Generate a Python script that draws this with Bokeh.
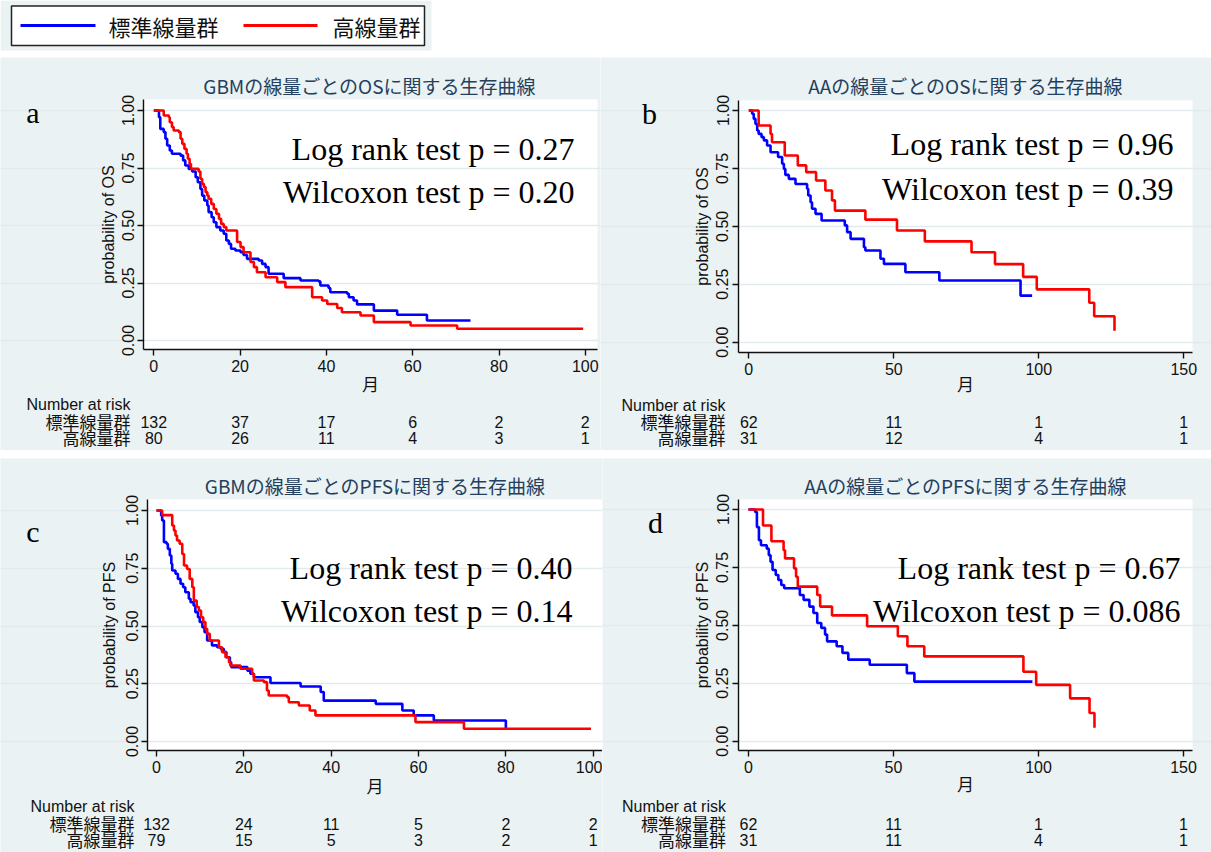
import math
from bokeh.plotting import figure
from bokeh.layouts import column, row
from bokeh.models import (Range1d, FixedTicker, PrintfTickFormatter, Label, Spacer, LinearAxis, Grid)
from bokeh.embed import file_html
from bokeh.resources import INLINE

# ---------------- data ----------------
group_names = ["標準線量群", "高線量群"]
series_colors = ["#0000ff", "#ff0000"]
x_label = "月"
risk_title = "Number at risk"
y_ticks = [0.0, 0.25, 0.5, 0.75, 1.0]

# Panel a : GBM OS
a_title = "GBMの線量ごとのOSに関する生存曲線"
a_ylabel = "probability of OS"
a_ticks = [0, 20, 40, 60, 80, 100]
a_std_t = [0, 1.2, 1.5, 2.3, 2.7, 3.1, 3.7, 4.2, 6.2, 6.8, 7.3, 8.1, 8.9, 9.7, 10.2, 10.8, 11.2, 11.7, 12.4,
           12.7, 13.4, 13.9, 14.5, 15.4, 16.2, 16.8, 17.4, 17.9, 18.9, 20.1, 20.8, 21.6, 24.3, 25.1, 25.9,
           26.6, 30.1, 34.0, 38.2, 38.6, 40.5, 40.9, 44.8, 45.2, 46.3, 47.1, 51.0, 56.4, 63.3, 73.4]
a_std_s = [1.0, 0.971, 0.920, 0.906, 0.877, 0.848, 0.826, 0.812, 0.804, 0.783, 0.761, 0.746, 0.735, 0.710,
           0.688, 0.659, 0.630, 0.609, 0.587, 0.558, 0.536, 0.514, 0.493, 0.478, 0.464, 0.435, 0.420, 0.399,
           0.391, 0.384, 0.372, 0.355, 0.348, 0.333, 0.319, 0.290, 0.271, 0.261, 0.257, 0.239, 0.228, 0.210,
           0.203, 0.188, 0.174, 0.157, 0.130, 0.112, 0.087, 0.087]
a_high_t = [0, 2.3, 3.5, 3.7, 4.2, 4.6, 5.8, 6.2, 6.6, 7.1, 7.6, 7.9, 8.3, 8.6, 10.4, 10.8, 11.2, 11.6, 12.0,
            12.4, 12.7, 13.3, 13.9, 14.5, 15.1, 15.6, 16.2, 16.8, 19.3, 20.1, 20.8, 22.4, 23.2, 23.9, 25.9,
            28.6, 30.5, 36.7, 39.0, 40.2, 42.5, 43.6, 47.9, 51.0, 59.5, 70.3, 99.5]
a_high_s = [1.0, 0.978, 0.971, 0.949, 0.928, 0.913, 0.906, 0.877, 0.855, 0.833, 0.812, 0.790, 0.768, 0.746,
            0.735, 0.703, 0.681, 0.667, 0.645, 0.630, 0.616, 0.594, 0.572, 0.551, 0.529, 0.507, 0.493, 0.478,
            0.428, 0.406, 0.384, 0.341, 0.319, 0.297, 0.275, 0.254, 0.232, 0.188, 0.174, 0.159, 0.141, 0.123,
            0.109, 0.080, 0.065, 0.051, 0.051]
a_risk_std = [132, 37, 17, 6, 2, 2]
a_risk_high = [80, 26, 11, 4, 3, 1]
a_logrank = "Log rank test p = 0.27"
a_wilcoxon = "Wilcoxon test p = 0.20"

# Panel b : AA OS
b_title = "AAの線量ごとのOSに関する生存曲線"
b_ylabel = "probability of OS"
b_ticks = [0, 50, 100, 150]
b_std_t = [0, 1.15, 1.7, 2.3, 2.9, 3.4, 4.4, 5.2, 6.3, 7.5, 10.1, 11.5, 12.1, 12.6, 13.8, 16.1, 20.1, 20.5,
           21.3, 21.8, 23.0, 25.1, 33.1, 33.9, 35.1, 39.7, 40.2, 45.4, 46.6, 54.0, 65.7, 93.7, 97.7]
b_std_s = [1.0, 0.986, 0.964, 0.942, 0.914, 0.899, 0.885, 0.871, 0.849, 0.820, 0.799, 0.770, 0.748, 0.722,
           0.705, 0.683, 0.662, 0.633, 0.604, 0.576, 0.554, 0.525, 0.504, 0.475, 0.446, 0.410, 0.396, 0.360,
           0.338, 0.302, 0.266, 0.201, 0.201]
b_high_t = [0, 3.4, 7.5, 8.0, 12.4, 16.9, 19.8, 23.2, 26.4, 28.7, 29.7, 40.2, 51.1, 60.7, 76.8, 84.9, 94.6,
            99.3, 117.4, 119.1, 126.1]
b_high_s = [1.0, 0.935, 0.899, 0.863, 0.806, 0.763, 0.734, 0.698, 0.655, 0.612, 0.568, 0.529, 0.482, 0.435,
            0.388, 0.337, 0.282, 0.228, 0.170, 0.112, 0.049]
b_risk_std = [62, 11, 1, 1]
b_risk_high = [31, 12, 4, 1]
b_logrank = "Log rank test p = 0.96"
b_wilcoxon = "Wilcoxon test p = 0.39"

# Panel c : GBM PFS
c_title = "GBMの線量ごとのPFSに関する生存曲線"
c_ylabel = "probability of PFS"
c_ticks = [0, 20, 40, 60, 80, 100]
c_std_t = [0, 1.07, 1.3, 1.7, 2.3, 2.6, 3.05, 3.4, 3.6, 4.35, 4.9, 5.5, 6.1, 6.6, 7.4, 7.8, 8.5, 8.9, 9.5,
           9.9, 10.5, 11.0, 11.6, 12.7, 13.9, 14.7, 15.4, 16.0, 16.8, 17.1, 20.8, 21.5, 22.3, 26.1, 33.0,
           37.6, 38.3, 50.2, 56.3, 58.9, 63.5, 80.0]
c_std_s = [1.0, 0.978, 0.957, 0.863, 0.856, 0.834, 0.805, 0.769, 0.740, 0.726, 0.704, 0.683, 0.668, 0.646,
           0.618, 0.603, 0.589, 0.560, 0.538, 0.517, 0.495, 0.473, 0.437, 0.416, 0.408, 0.401, 0.387, 0.365,
           0.343, 0.322, 0.307, 0.293, 0.278, 0.253, 0.238, 0.214, 0.177, 0.163, 0.134, 0.113, 0.091, 0.055]
c_high_t = [0, 1.3, 3.6, 4.0, 4.35, 4.7, 5.3, 5.9, 6.3, 7.0, 7.6, 8.2, 8.55, 9.2, 9.7, 10.2, 10.7, 11.2,
            11.6, 12.2, 14.3, 15.0, 15.8, 16.6, 16.9, 19.2, 21.9, 22.3, 24.6, 25.3, 25.7, 29.9, 30.3, 32.6,
            35.1, 36.4, 59.3, 70.4, 99.5]
c_high_s = [1.0, 0.980, 0.935, 0.913, 0.892, 0.870, 0.856, 0.812, 0.762, 0.747, 0.704, 0.668, 0.610, 0.582,
            0.567, 0.538, 0.517, 0.488, 0.466, 0.437, 0.408, 0.387, 0.365, 0.343, 0.329, 0.315, 0.293, 0.264,
            0.257, 0.221, 0.199, 0.192, 0.170, 0.156, 0.134, 0.113, 0.084, 0.055, 0.055]
c_risk_std = [132, 24, 11, 5, 2, 2]
c_risk_high = [79, 15, 5, 3, 2, 1]
c_logrank = "Log rank test p = 0.40"
c_wilcoxon = "Wilcoxon test p = 0.14"

# Panel d : AA PFS
d_title = "AAの線量ごとのPFSに関する生存曲線"
d_ylabel = "probability of PFS"
d_ticks = [0, 50, 100, 150]
d_std_t = [0, 2.3, 2.9, 3.6, 4.3, 6.3, 7.0, 7.6, 8.3, 9.4, 10.3, 11.3, 12.3, 17.7, 19.0, 21.0, 22.4, 23.7,
           25.1, 26.4, 27.1, 30.4, 32.4, 34.4, 41.8, 54.6, 57.2, 97.9]
d_std_s = [1.0, 0.989, 0.924, 0.867, 0.846, 0.831, 0.803, 0.774, 0.739, 0.717, 0.696, 0.674, 0.660, 0.631,
           0.610, 0.581, 0.553, 0.510, 0.489, 0.460, 0.431, 0.410, 0.381, 0.352, 0.330, 0.294, 0.257, 0.257]
d_high_t = [0, 5.0, 7.9, 12.1, 12.6, 15.7, 16.4, 17.0, 23.7, 24.7, 28.8, 40.9, 51.5, 54.8, 60.6, 94.8, 99.2,
            110.9, 117.6, 119.3]
d_high_s = [1.0, 0.931, 0.863, 0.824, 0.789, 0.746, 0.710, 0.667, 0.631, 0.581, 0.543, 0.496, 0.453, 0.410,
            0.366, 0.300, 0.243, 0.185, 0.122, 0.058]
d_risk_std = [62, 11, 1, 1]
d_risk_high = [31, 11, 4, 1]
d_logrank = "Log rank test p = 0.67"
d_wilcoxon = "Wilcoxon test p = 0.086"

# ---------------- styling / layout ----------------
SANS = "Liberation Sans"
CJK = "Noto Sans CJK JP"
SERIF = "Liberation Serif"
BG = "#eaf2f3"
GRID = "#e1eaed"
INK = "#111111"
TITLE_COLOR = "#24405e"

# box: figure placement on page; plot: plot-region edges (L, T, R, B);
# x0px/xppu, y0px/yppu: pixel of value 0 and pixels per unit on each scale
panels = [
    dict(letter="a", title=a_title, ylabel=a_ylabel, ticks=a_ticks,
         curves=[(a_std_t, a_std_s), (a_high_t, a_high_s)], risk=[a_risk_std, a_risk_high],
         stats=[a_logrank, a_wilcoxon],
         box=(0, 57, 600, 450), plot=(143, 99, 597, 349), x0px=153.3, xppu=4.315, y0px=340.0, yppu=230.0,
         title_pos=(369, 85), letter_pos=(32.5, 111.7), stat_x=574, stat_y=(148.3, 191.7),
         nar_x=130, nar_y=(404, 421, 437), ylab_x=108, xlab_y=383),
    dict(letter="b", title=b_title, ylabel=b_ylabel, ticks=b_ticks,
         curves=[(b_std_t, b_std_s), (b_high_t, b_high_s)], risk=[b_risk_std, b_risk_high],
         stats=[b_logrank, b_wilcoxon],
         box=(600, 57, 1211, 450), plot=(738, 100, 1192, 352), x0px=748.3, xppu=2.9, y0px=341.7, yppu=231.7,
         title_pos=(965, 85), letter_pos=(649, 113.3), stat_x=1173, stat_y=(143.3, 188.3),
         nar_x=725, nar_y=(405, 421, 437), ylab_x=702, xlab_y=383),
    dict(letter="c", title=c_title, ylabel=c_ylabel, ticks=c_ticks,
         curves=[(c_std_t, c_std_s), (c_high_t, c_high_s)], risk=[c_risk_std, c_risk_high],
         stats=[c_logrank, c_wilcoxon],
         box=(0, 458, 602, 852), plot=(147, 499, 602, 750), x0px=156.0, xppu=4.367, y0px=741.0, yppu=231.0,
         title_pos=(374.5, 485), letter_pos=(32.5, 530.7), stat_x=572, stat_y=(567.3, 610.7),
         nar_x=134, nar_y=(806, 823, 839), ylab_x=109, xlab_y=785),
    dict(letter="d", title=d_title, ylabel=d_ylabel, ticks=d_ticks,
         curves=[(d_std_t, d_std_s), (d_high_t, d_high_s)], risk=[d_risk_std, d_risk_high],
         stats=[d_logrank, d_wilcoxon],
         box=(602, 458, 1211, 852), plot=(738, 499, 1192, 750), x0px=748.0, xppu=2.9, y0px=740.7, yppu=231.7,
         title_pos=(965, 485), letter_pos=(655, 521.7), stat_x=1180, stat_y=(567.3, 610.7),
         nar_x=725.5, nar_y=(806, 823, 839), ylab_x=702, xlab_y=783),
]


def add_text(p, x, y, text, font, size, color=INK, align="left", baseline="middle", angle=0.0):
    p.add_layout(Label(x=x, y=y, x_units="data", y_units="data", text=text, text_font=font,
                       text_font_size=f"{size}px", text_color=color, text_align=align,
                       text_baseline=baseline, angle=angle, angle_units="rad"))


def make_panel(cfg):
    bx0, by0, bx1, by1 = cfg["box"]
    L, T, R, B = cfg["plot"]
    x0px, xppu, y0px, yppu = cfg["x0px"], cfg["xppu"], cfg["y0px"], cfg["yppu"]

    def X(px):
        return (px - x0px) / xppu

    def Y(py):
        return (y0px - py) / yppu

    p = figure(width=bx1 - bx0, height=by1 - by0,
               x_range=Range1d(X(bx0), X(bx1)), y_range=Range1d(Y(by1), Y(by0)),
               output_backend="svg", toolbar_location=None, x_axis_type=None, y_axis_type=None,
               min_border=0)
    p.background_fill_color = BG
    p.border_fill_color = BG
    p.outline_line_color = None

    # white plot region
    region = p.quad(left=[X(L)], right=[X(R)], top=[Y(T)], bottom=[Y(B)], fill_color="white", line_color=None)
    region.level = "image"

    grid = Grid(dimension=1, ticker=FixedTicker(ticks=y_ticks), bounds=(X(L), X(R)),
                grid_line_color=GRID, grid_line_width=1.5)
    p.add_layout(grid)

    xaxis = LinearAxis(ticker=FixedTicker(ticks=cfg["ticks"]), fixed_location=Y(B), bounds=(X(L), X(R)))
    yaxis = LinearAxis(ticker=FixedTicker(ticks=y_ticks), fixed_location=X(L), bounds=(Y(B), Y(T)),
                       formatter=PrintfTickFormatter(format="%.2f"), major_label_orientation="vertical")
    for ax in (xaxis, yaxis):
        ax.major_tick_out = 6
        ax.major_tick_in = 0
        ax.minor_tick_line_color = None
        ax.axis_line_color = INK
        ax.axis_line_width = 1.4
        ax.major_tick_line_color = INK
        ax.major_tick_line_width = 1.4
        ax.major_label_text_font = SANS
        ax.major_label_text_font_size = "16px"
        ax.major_label_text_color = INK
    xaxis.major_label_standoff = 4
    yaxis.major_label_standoff = 4
    p.add_layout(xaxis, "below")
    p.add_layout(yaxis, "left")

    for (t, s), col in zip(cfg["curves"], series_colors):
        assert len(t) == len(s)
        p.step(x=t, y=s, mode="after", line_color=col, line_width=2.6)

    add_text(p, X(cfg["title_pos"][0]), Y(cfg["title_pos"][1]), cfg["title"], CJK, 19,
             color=TITLE_COLOR, align="center")
    add_text(p, X(cfg["letter_pos"][0]), Y(cfg["letter_pos"][1]), cfg["letter"], SERIF, 30,
             color="black", align="center", baseline="alphabetic")
    for txt, sy in zip(cfg["stats"], cfg["stat_y"]):
        add_text(p, X(cfg["stat_x"]), Y(sy), txt, SERIF, 32, color="black", align="right",
                 baseline="alphabetic")
    add_text(p, X(cfg["ylab_x"]), Y((T + B) / 2), cfg["ylabel"], SANS, 16, align="center",
             angle=math.pi / 2)
    add_text(p, X((L + R) / 2), Y(cfg["xlab_y"]), x_label, CJK, 17, align="center")

    ny = cfg["nar_y"]
    add_text(p, X(cfg["nar_x"]), Y(ny[0]), risk_title, SANS, 16, align="right")
    for name, counts, yy in zip(group_names, cfg["risk"], ny[1:]):
        add_text(p, X(cfg["nar_x"]), Y(yy), name, CJK, 17, align="right")
        for tv, n in zip(cfg["ticks"], counts):
            add_text(p, tv, Y(yy), str(n), SANS, 16, align="center")
    return p


# ---------------- legend strip ----------------
lg = figure(width=1211, height=57, x_range=Range1d(0, 1211), y_range=Range1d(57, 0),
            output_backend="svg", toolbar_location=None, x_axis_type=None, y_axis_type=None,
            min_border=0)
lg.outline_line_color = None
lg.background_fill_color = "white"
lg.border_fill_color = "white"
lg.quad(left=[0], right=[431], top=[0], bottom=[50], fill_color=BG, line_color=None)
lg.quad(left=[11], right=[424], top=[5.5], bottom=[45], fill_color="white", line_color="#222222",
        line_width=1.5)
legend_line_x = [(20, 95), (243, 317)]
legend_text_x = [108, 332]
for name, col, (lx0, lx1), tx in zip(group_names, series_colors, legend_line_x, legend_text_x):
    lg.line([lx0, lx1], [25, 25], line_color=col, line_width=3)
    add_text(lg, tx, 25, name, CJK, 22, color=INK, align="left")

figs = [make_panel(c) for c in panels]

layout = column(lg, row(figs[0], figs[1]), Spacer(width=1211, height=8), row(figs[2], figs[3]))

open("out.html", "w").write(file_html(layout, INLINE))
